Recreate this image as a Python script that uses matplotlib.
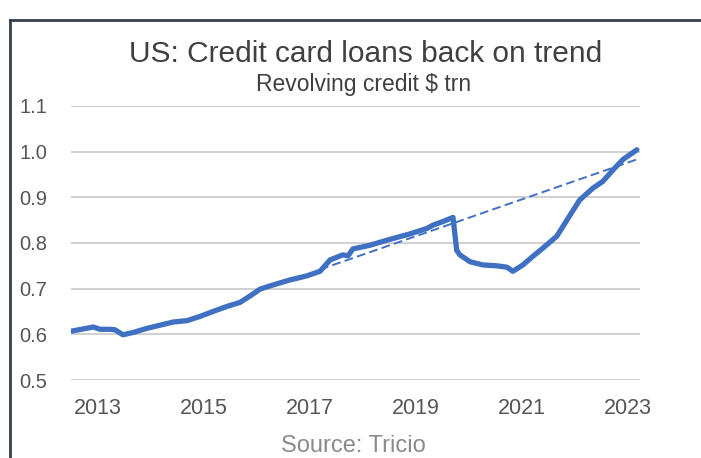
import matplotlib.pyplot as plt
from matplotlib.lines import Line2D

# Revolving credit, $ trn (decimal year, value)
YEARS = [2013.00, 2013.41, 2013.54, 2013.73, 2013.82, 2013.97, 2014.16, 2014.42,
         2014.67, 2014.92, 2015.18, 2015.42, 2015.67, 2015.93, 2016.18, 2016.37,
         2016.56, 2016.80, 2017.12, 2017.44, 2017.69, 2017.88, 2018.12, 2018.22,
         2018.31, 2018.63, 2019.01, 2019.39, 2019.71, 2019.82, 2020.01, 2020.20,
         2020.27, 2020.33, 2020.52, 2020.76, 2021.03, 2021.22, 2021.33, 2021.52,
         2021.71, 2021.90, 2022.16, 2022.35, 2022.59, 2022.84, 2023.03, 2023.22,
         2023.41, 2023.67]
CREDIT = [0.607, 0.616, 0.611, 0.611, 0.610, 0.599, 0.604, 0.613,
          0.620, 0.627, 0.630, 0.639, 0.650, 0.661, 0.670, 0.684,
          0.699, 0.708, 0.719, 0.728, 0.738, 0.763, 0.774, 0.772,
          0.787, 0.795, 0.808, 0.820, 0.832, 0.839, 0.847, 0.856,
          0.784, 0.774, 0.759, 0.752, 0.750, 0.747, 0.738, 0.752,
          0.771, 0.789, 0.815, 0.850, 0.894, 0.920, 0.935, 0.960,
          0.983, 1.004]

# Pre-pandemic trend extended forward
TREND_YEARS = [2017.69, 2023.67]
TREND = [0.742, 0.983]

TICK_YEARS = [2013, 2015, 2017, 2019, 2021, 2023]
Y_TICKS = [0.5, 0.6, 0.7, 0.8, 0.9, 1.0, 1.1]

BLUE = "#4070c2"
TEXT = "#404040"
FONT = "Liberation Sans"

plt.rcParams['font.family'] = FONT

fig = plt.figure(figsize=(7.01, 4.58), dpi=100)
ax = fig.add_axes([0.1013, 0.1703, 0.8117, 0.5983])

ax.plot(YEARS, CREDIT, color=BLUE, linewidth=3.8, solid_joinstyle="round",
        solid_capstyle="round")
ax.plot(TREND_YEARS, TREND, color=BLUE, linewidth=1.4, linestyle=(0, (4.5, 2.2)))

ax.set_xlim(2012.99, 2023.73)
ax.set_ylim(0.5, 1.1)

# labels sit in the middle of each year
ax.set_xticks([y + 0.5 for y in TICK_YEARS])
ax.set_xticklabels([str(y) for y in TICK_YEARS])
ax.set_yticks(Y_TICKS)
ax.set_yticklabels(["%.1f" % v for v in Y_TICKS])

ax.grid(axis="y", color="#c8c8c8", linewidth=1.2)
ax.set_axisbelow(True)
for s in ax.spines.values():
    s.set_visible(False)
ax.tick_params(axis="both", length=0, labelcolor="#555555")
ax.tick_params(axis="y", pad=17, labelsize=14.5)
ax.tick_params(axis="x", pad=13, labelsize=15.5)

fig.text(0.521, 1 - 62 / 458, "US: Credit card loans back on trend", ha="center",
         va="baseline", fontsize=21.5, color=TEXT)
fig.text(0.519, 1 - 91 / 458, "Revolving credit $ trn", ha="center",
         va="baseline", fontsize=16.5, color=TEXT)
fig.text(0.504, 1 - 452 / 458, "Source: Tricio", ha="center", va="baseline",
         fontsize=17, color="#8a8a8a")

# frame around the panel
frame = "#34404e"
fig.add_artist(Line2D([10 / 701, 10 / 701], [0, 1 - 20 / 458], color=frame, linewidth=2))
fig.add_artist(Line2D([10 / 701, 1], [1 - 20 / 458, 1 - 20 / 458], color=frame, linewidth=2))

fig.savefig("out.png", dpi=100)
